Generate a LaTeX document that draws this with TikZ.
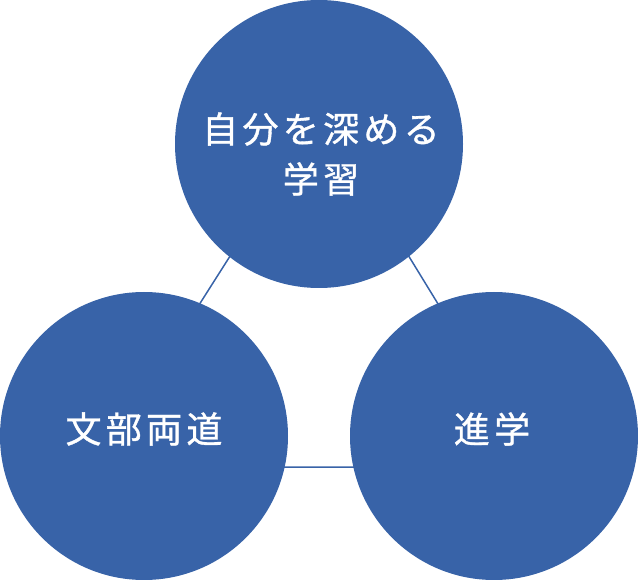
\documentclass[tikz,border=0pt]{standalone}
\usepackage{fontspec}
\newfontfamily\jpfont[LetterSpace=12,FakeBold=1]{Noto Sans CJK JP}
\definecolor{ballblue}{RGB}{56,99,168}
\begin{document}
\begin{tikzpicture}[x=1pt, y=-1pt,
    ball/.style={circle, fill=ballblue, minimum size=288pt, inner sep=0pt},
    caption/.style={text=white, font=\jpfont\fontsize{36}{50}\selectfont, align=center, inner sep=0pt},
    link/.style={draw=ballblue, line width=1.5pt}]
    \useasboundingbox (0,0) rectangle (638,580);
    % triangle behind the circles
    \coordinate (apex) at (321,113);
    \coordinate (lcorner) at (96,467);
    \coordinate (rcorner) at (538,467);
    \draw[link] (apex) -- (lcorner) -- (rcorner) -- cycle;

    \node[ball] (study) at (319,144) {};
    \node[ball] (bunbu) at (144,436) {};
    \node[ball] (shingaku) at (494,436) {};

    \node[caption] (studytext) at (321,154) {自分を深める\\学習};
    \node[caption] (bunbutext) at (144,429) {文部両道};
    \node[caption] (shingakutext) at (492,429) {進学};
\end{tikzpicture}
\end{document}
